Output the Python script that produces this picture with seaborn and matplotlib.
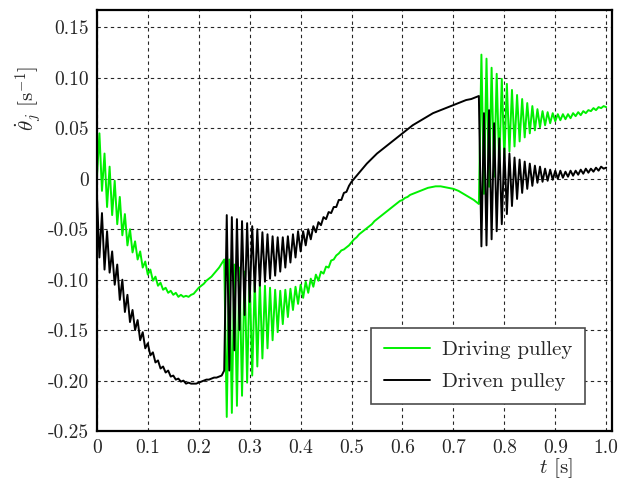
import numpy as np
import pandas as pd
import matplotlib
matplotlib.use('Agg')
import matplotlib.pyplot as plt
import seaborn as sns

# sample times (s), one value every 0.005 s
t = np.linspace(0, 1, 201)

# driving pulley
green_a = [0.000, 0.045, -0.012, 0.025, -0.028, 0.012, -0.036, -0.002, -0.045, -0.018,
           -0.056, -0.035, -0.066, -0.050, -0.073, -0.062, -0.080, -0.072, -0.088, -0.082,
           -0.095, -0.090, -0.101, -0.097, -0.106, -0.103, -0.110, -0.108, -0.113, -0.111,
           -0.115, -0.113, -0.117, -0.115, -0.117, -0.116, -0.117, -0.115, -0.114, -0.111,
           -0.108, -0.106, -0.104, -0.101, -0.099, -0.097, -0.094, -0.091, -0.088, -0.084,
           -0.080]
green_b = [-0.236, -0.080, -0.232, -0.085, -0.225, -0.088, -0.215, -0.092, -0.202, -0.096,
           -0.195, -0.100, -0.186, -0.103, -0.178, -0.106, -0.168, -0.108, -0.160, -0.110,
           -0.152, -0.111, -0.144, -0.110, -0.137, -0.109, -0.130, -0.107, -0.124, -0.105,
           -0.118, -0.102, -0.113, -0.099, -0.107, -0.095, -0.101, -0.092, -0.094, -0.087,
           -0.088, -0.081, -0.080, -0.076, -0.074, -0.071, -0.070, -0.068, -0.066, -0.063]
green_c = [-0.060, -0.058, -0.055, -0.053, -0.051, -0.049, -0.047, -0.045, -0.042, -0.040,
           -0.038, -0.036, -0.034, -0.032, -0.030, -0.028, -0.026, -0.024, -0.022, -0.021,
           -0.019, -0.018, -0.016, -0.015, -0.014, -0.013, -0.012, -0.011, -0.010, -0.009,
           -0.0085, -0.008, -0.0075, -0.0075, -0.0075, -0.008, -0.0085, -0.009, -0.0095, -0.010,
           -0.011, -0.012, -0.0135, -0.015, -0.0165, -0.018, -0.0195, -0.021, -0.023, -0.025]
green_d = [0.123, -0.015, 0.119, -0.008, 0.110, 0.002, 0.104, 0.012, 0.099, 0.020,
           0.094, 0.027, 0.088, 0.032, 0.083, 0.037, 0.079, 0.041, 0.075, 0.045,
           0.072, 0.048, 0.069, 0.051, 0.067, 0.053, 0.066, 0.055, 0.065, 0.057,
           0.064, 0.058, 0.064, 0.059, 0.064, 0.060, 0.065, 0.062, 0.066, 0.063,
           0.067, 0.065, 0.068, 0.067, 0.070, 0.068, 0.071, 0.070, 0.072, 0.071]

# driven pulley
black_a = [-0.015, -0.078, -0.034, -0.090, -0.052, -0.093, -0.072, -0.105, -0.085, -0.120,
           -0.100, -0.132, -0.115, -0.142, -0.130, -0.150, -0.140, -0.160, -0.152, -0.168,
           -0.163, -0.175, -0.172, -0.182, -0.180, -0.188, -0.186, -0.192, -0.190, -0.196,
           -0.195, -0.199, -0.198, -0.201, -0.200, -0.203, -0.202, -0.203, -0.203, -0.203,
           -0.202, -0.201, -0.200, -0.199, -0.199, -0.198, -0.197, -0.197, -0.196, -0.195,
           -0.190]
black_b = [-0.036, -0.190, -0.038, -0.170, -0.040, -0.150, -0.042, -0.135, -0.044, -0.122,
           -0.047, -0.112, -0.050, -0.106, -0.053, -0.102, -0.055, -0.099, -0.057, -0.096,
           -0.058, -0.092, -0.058, -0.088, -0.057, -0.083, -0.055, -0.078, -0.052, -0.072,
           -0.052, -0.066, -0.050, -0.060, -0.047, -0.053, -0.043, -0.046, -0.038, -0.040,
           -0.033, -0.034, -0.028, -0.028, -0.021, -0.021, -0.014, -0.013, -0.007, -0.003]
black_c = [0.000, 0.003, 0.006, 0.009, 0.012, 0.015, 0.0175, 0.020, 0.0225, 0.025,
           0.027, 0.029, 0.031, 0.033, 0.035, 0.037, 0.039, 0.041, 0.043, 0.045,
           0.047, 0.049, 0.051, 0.053, 0.0545, 0.056, 0.0575, 0.059, 0.0605, 0.062,
           0.0635, 0.065, 0.066, 0.067, 0.068, 0.069, 0.070, 0.071, 0.072, 0.073,
           0.074, 0.075, 0.076, 0.077, 0.078, 0.0785, 0.079, 0.080, 0.081, 0.082]
black_d = [-0.067, 0.065, -0.066, 0.068, -0.060, 0.055, -0.052, 0.040, -0.045, 0.030,
           -0.035, 0.025, -0.027, 0.021, -0.020, 0.019, -0.014, 0.017, -0.010, 0.015,
           -0.007, 0.013, -0.004, 0.012, -0.003, 0.010, -0.002, 0.009, -0.001, 0.008,
           0.000, 0.008, 0.001, 0.007, 0.002, 0.008, 0.003, 0.008, 0.004, 0.009,
           0.005, 0.010, 0.006, 0.010, 0.007, 0.011, 0.008, 0.012, 0.010, 0.011]

y_ticks = [-0.25, -0.20, -0.15, -0.10, -0.05, 0, 0.05, 0.10, 0.15]
y_labels = ['-0.25', '-0.20', '-0.15', '-0.10', '-0.05', '0', '0.05', '0.10', '0.15']
x_ticks = [0, 0.1, 0.2, 0.3, 0.4, 0.5, 0.6, 0.7, 0.8, 0.9, 1.0]
x_labels = ['0', '0.1', '0.2', '0.3', '0.4', '0.5', '0.6', '0.7', '0.8', '0.9', '1.0']

df = pd.DataFrame({'t': t,
                   'driving': green_a + green_b + green_c + green_d,
                   'driven': black_a + black_b + black_c + black_d})

sns.set_style('white')
plt.rcParams['font.family'] = ['cmr10', 'DejaVu Serif']
plt.rcParams['mathtext.fontset'] = 'cm'
plt.rcParams['axes.unicode_minus'] = False

fig = plt.figure(figsize=(6.21, 4.86), dpi=100)
ax = fig.add_axes([0.156, 0.113, 0.830, 0.866])

sns.lineplot(data=df, x='t', y='driving', color='#00f000', lw=1.4, label='Driving pulley', ax=ax)
sns.lineplot(data=df, x='t', y='driven', color='black', lw=1.4, label='Driven pulley', ax=ax)

ax.set_xlim(0, 1.012)
ax.set_ylim(-0.25, 0.167)
ax.set_xticks(x_ticks)
ax.set_xticklabels(x_labels)
ax.set_yticks(y_ticks)
ax.set_yticklabels(y_labels)
ax.tick_params(length=0, labelsize=14, pad=6)
ax.grid(True, color='0.15', linestyle=(0, (3, 3)), linewidth=0.8)

for s in ax.spines.values():
    s.set_color('black')
    s.set_linewidth(1.6)

ax.set_xlabel(r'$t$ [s]', fontsize=15)
ax.xaxis.set_label_coords(0.89, -0.06)
ax.set_ylabel(r'$\dot{\theta}_j$ [s$^{\mathrm{-1}}$]', fontsize=15)
ax.yaxis.set_label_coords(-0.105, 0.79)

leg = ax.legend(loc='lower right', bbox_to_anchor=(0.967, 0.04), fontsize=15,
                frameon=True, fancybox=False, shadow=False, handlelength=2.2,
                handletextpad=0.6, borderpad=0.6, labelspacing=0.65, framealpha=1)
leg.get_frame().set_edgecolor('0.3')
leg.get_frame().set_linewidth(1.2)

fig.savefig('out.png', dpi=100)
